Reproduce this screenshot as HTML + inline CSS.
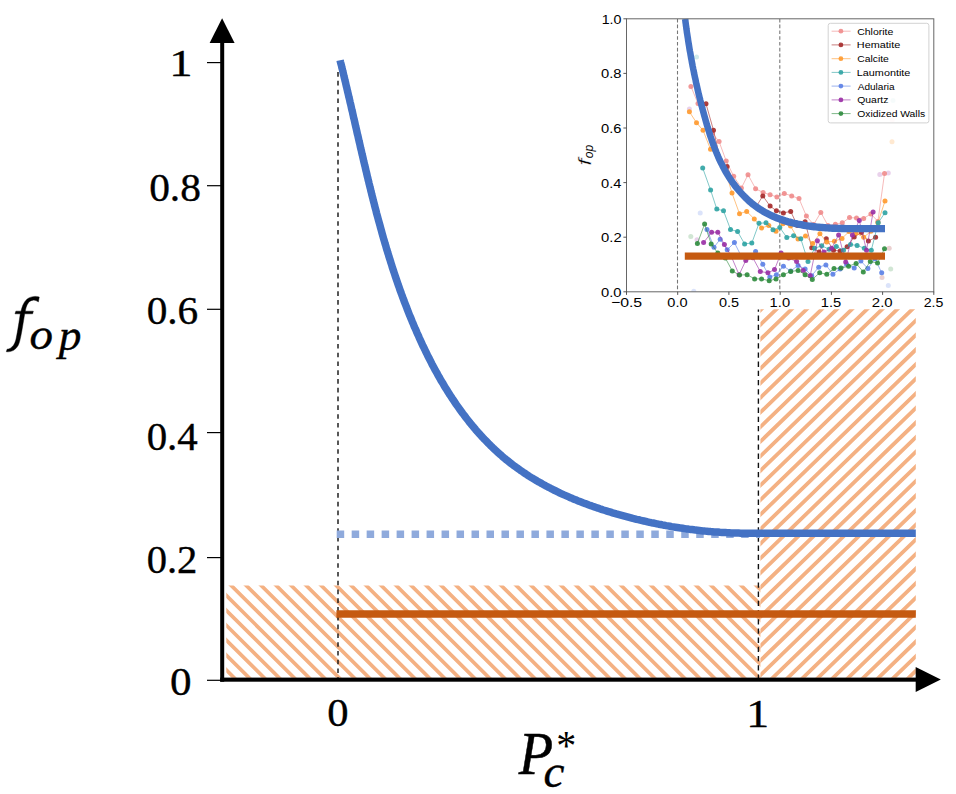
<!DOCTYPE html>
<html><head><meta charset="utf-8"><title>f_op vs P_c*</title>
<style>html,body{margin:0;padding:0;background:#fff;}svg{display:block;}text{font-family:"Liberation Serif",serif;fill:#000;}.s{font-family:"Liberation Sans",sans-serif;fill:#111;}</style></head><body>
<svg width="956" height="794" viewBox="0 0 956 794">
<defs>
<clipPath id="ic"><rect x="626.5" y="18.8" width="307.3" height="273"/></clipPath>
</defs>
<rect width="956" height="794" fill="#fff"/>
<clipPath id="c1"><rect x="226.3" y="585.5" width="534.10" height="92.30"/></clipPath><g clip-path="url(#c1)" stroke="#f4b183" stroke-width="3.7" fill="none"><path d="M86.16,575.50L199.22,687.80M101.16,575.50L214.22,687.80M116.16,575.50L229.22,687.80M131.16,575.50L244.22,687.80M146.16,575.50L259.22,687.80M161.16,575.50L274.22,687.80M176.16,575.50L289.22,687.80M191.16,575.50L304.22,687.80M206.16,575.50L319.22,687.80M221.16,575.50L334.22,687.80M236.16,575.50L349.22,687.80M251.16,575.50L364.22,687.80M266.16,575.50L379.22,687.80M281.16,575.50L394.22,687.80M296.16,575.50L409.22,687.80M311.16,575.50L424.22,687.80M326.16,575.50L439.22,687.80M341.16,575.50L454.22,687.80M356.16,575.50L469.22,687.80M371.16,575.50L484.22,687.80M386.16,575.50L499.22,687.80M401.16,575.50L514.22,687.80M416.16,575.50L529.22,687.80M431.16,575.50L544.22,687.80M446.16,575.50L559.22,687.80M461.16,575.50L574.22,687.80M476.16,575.50L589.22,687.80M491.16,575.50L604.22,687.80M506.16,575.50L619.22,687.80M521.16,575.50L634.22,687.80M536.16,575.50L649.22,687.80M551.16,575.50L664.22,687.80M566.16,575.50L679.22,687.80M581.16,575.50L694.22,687.80M596.16,575.50L709.22,687.80M611.16,575.50L724.22,687.80M626.16,575.50L739.22,687.80M641.16,575.50L754.22,687.80M656.16,575.50L769.22,687.80M671.16,575.50L784.22,687.80M686.16,575.50L799.22,687.80M701.16,575.50L814.22,687.80M716.16,575.50L829.22,687.80M731.16,575.50L844.22,687.80M746.16,575.50L859.22,687.80M761.16,575.50L874.22,687.80M776.16,575.50L889.22,687.80M791.16,575.50L904.22,687.80"/></g>
<clipPath id="c2"><rect x="760.4" y="309.3" width="155.40" height="368.50"/></clipPath><g clip-path="url(#c2)" stroke="#f4b183" stroke-width="3.8" fill="none"><path d="M741.41,299.30L339.61,687.80M756.51,299.30L354.71,687.80M771.61,299.30L369.81,687.80M786.71,299.30L384.91,687.80M801.81,299.30L400.01,687.80M816.91,299.30L415.11,687.80M832.01,299.30L430.21,687.80M847.11,299.30L445.31,687.80M862.21,299.30L460.41,687.80M877.31,299.30L475.51,687.80M892.41,299.30L490.61,687.80M907.51,299.30L505.71,687.80M922.61,299.30L520.81,687.80M937.71,299.30L535.91,687.80M952.81,299.30L551.01,687.80M967.91,299.30L566.11,687.80M983.01,299.30L581.21,687.80M998.11,299.30L596.31,687.80M1013.21,299.30L611.41,687.80M1028.31,299.30L626.51,687.80M1043.41,299.30L641.61,687.80M1058.51,299.30L656.71,687.80M1073.61,299.30L671.81,687.80M1088.71,299.30L686.91,687.80M1103.81,299.30L702.01,687.80M1118.91,299.30L717.11,687.80M1134.01,299.30L732.21,687.80M1149.11,299.30L747.31,687.80M1164.21,299.30L762.41,687.80M1179.31,299.30L777.51,687.80M1194.41,299.30L792.61,687.80M1209.51,299.30L807.71,687.80M1224.61,299.30L822.81,687.80M1239.71,299.30L837.91,687.80M1254.81,299.30L853.01,687.80M1269.91,299.30L868.11,687.80M1285.01,299.30L883.21,687.80M1300.11,299.30L898.31,687.80M1315.21,299.30L913.41,687.80M1330.31,299.30L928.51,687.80M1345.41,299.30L943.61,687.80"/></g>
<g>
<rect x="626.5" y="18.8" width="307.3" height="273" fill="#fff"/>
<g clip-path="url(#ic)">
<line x1="677.5" y1="18.8" x2="677.5" y2="291.8" stroke="#777" stroke-width="1.1" stroke-dasharray="3.6,2.2"/>
<line x1="779.8" y1="18.8" x2="779.8" y2="291.8" stroke="#777" stroke-width="1.1" stroke-dasharray="3.6,2.2"/>
<circle cx="700.2" cy="212.9" r="2.5" fill="#5b80e6" opacity="0.22"/>
<circle cx="697.0" cy="239.8" r="2.5" fill="#9a2fa5" opacity="0.22"/>
<circle cx="690.8" cy="236.5" r="2.5" fill="#2e8b3d" opacity="0.22"/>
<circle cx="693.8" cy="291.3" r="2.5" fill="#5b80e6" opacity="0.22"/>
<circle cx="888.3" cy="173.1" r="2.5" fill="#9a2fa5" opacity="0.22"/>
<circle cx="879.8" cy="174.6" r="2.5" fill="#9a2fa5" opacity="0.22"/>
<circle cx="889.2" cy="248.3" r="2.5" fill="#a52a2a" opacity="0.22"/>
<circle cx="888.3" cy="285.5" r="2.5" fill="#5b80e6" opacity="0.22"/>
<circle cx="890.7" cy="269.0" r="2.5" fill="#2e8b3d" opacity="0.22"/>
<circle cx="882.0" cy="277.6" r="2.5" fill="#a52a2a" opacity="0.22"/>
<circle cx="893.0" cy="100.4" r="2.5" fill="#2fa3a3" opacity="0.22"/>
<circle cx="892.0" cy="141.8" r="2.5" fill="#ff9a2e" opacity="0.22"/>
<circle cx="696.5" cy="57.0" r="2.5" fill="#2fa3a3" opacity="0.22"/>
<circle cx="689.4" cy="109.1" r="2.5" fill="#9a2fa5" opacity="0.22"/>
<circle cx="892.3" cy="119.9" r="2.5" fill="#f08c8c" opacity="0.22"/>
<path d="M690.9,86.4 L698.0,103.5 L705.2,120.0 L712.3,133.0 L719.1,141.6 L726.2,161.0 L733.7,176.2 L741.4,188.0 L748.0,174.7 L755.6,188.7 L763.1,192.5 L770.1,194.8 L776.9,196.9 L784.3,193.5 L791.7,195.9 L799.0,198.6 L806.4,216.1 L813.6,224.6 L820.8,212.4 L828.0,225.6 L835.4,224.3 L842.3,222.8 L849.5,217.6 L856.5,218.0 L863.7,218.4 L870.9,213.9 L877.9,221.4 L884.5,173.6" fill="none" stroke="#f08c8c" stroke-width="1" opacity="0.6"/>
<g fill="#f08c8c" opacity="0.9"><circle cx="690.9" cy="86.4" r="2.5"/><circle cx="698.0" cy="103.5" r="2.5"/><circle cx="705.2" cy="120" r="2.5"/><circle cx="712.3" cy="133" r="2.5"/><circle cx="719.1" cy="141.6" r="2.5"/><circle cx="726.2" cy="161" r="2.5"/><circle cx="733.7" cy="176.2" r="2.5"/><circle cx="741.4" cy="188" r="2.5"/><circle cx="748" cy="174.7" r="2.5"/><circle cx="755.6" cy="188.7" r="2.5"/><circle cx="763.1" cy="192.5" r="2.5"/><circle cx="770.1" cy="194.8" r="2.5"/><circle cx="776.9" cy="196.9" r="2.5"/><circle cx="784.3" cy="193.5" r="2.5"/><circle cx="791.7" cy="195.9" r="2.5"/><circle cx="799" cy="198.6" r="2.5"/><circle cx="806.4" cy="216.1" r="2.5"/><circle cx="813.6" cy="224.6" r="2.5"/><circle cx="820.8" cy="212.4" r="2.5"/><circle cx="828" cy="225.6" r="2.5"/><circle cx="835.4" cy="224.3" r="2.5"/><circle cx="842.3" cy="222.8" r="2.5"/><circle cx="849.5" cy="217.6" r="2.5"/><circle cx="856.5" cy="218" r="2.5"/><circle cx="863.7" cy="218.4" r="2.5"/><circle cx="870.9" cy="213.9" r="2.5"/><circle cx="877.9" cy="221.4" r="2.5"/><circle cx="884.5" cy="173.6" r="2.5"/></g>
<path d="M706.0,103.8 L713.5,130.3 L720.5,160.5 L727.1,166.5 L735.0,184.5 L742.0,194.5 L749.0,201.5 L756.0,207.0 L762.8,195.9 L770.1,206.1 L776.4,210.8 L783.4,212.9 L790.7,211.4 L797.4,225.6 L805.1,221.8 L811.7,247.7 L819.0,252.0 L826.3,238.8 L833.5,250.2 L840.1,251.1 L847.1,246.8 L854.2,236.9 L861.4,232.6 L868.4,241.1 L875.6,237.3" fill="none" stroke="#a52a2a" stroke-width="1" opacity="0.6"/>
<g fill="#a52a2a" opacity="0.9"><circle cx="706" cy="103.8" r="2.5"/><circle cx="713.5" cy="130.3" r="2.5"/><circle cx="720.5" cy="160.5" r="2.5"/><circle cx="727.1" cy="166.5" r="2.5"/><circle cx="735.0" cy="184.5" r="2.5"/><circle cx="742.0" cy="194.5" r="2.5"/><circle cx="749.0" cy="201.5" r="2.5"/><circle cx="756.0" cy="207" r="2.5"/><circle cx="762.8" cy="195.9" r="2.5"/><circle cx="770.1" cy="206.1" r="2.5"/><circle cx="776.4" cy="210.8" r="2.5"/><circle cx="783.4" cy="212.9" r="2.5"/><circle cx="790.7" cy="211.4" r="2.5"/><circle cx="797.4" cy="225.6" r="2.5"/><circle cx="805.1" cy="221.8" r="2.5"/><circle cx="811.7" cy="247.7" r="2.5"/><circle cx="819" cy="252" r="2.5"/><circle cx="826.3" cy="238.8" r="2.5"/><circle cx="833.5" cy="250.2" r="2.5"/><circle cx="840.1" cy="251.1" r="2.5"/><circle cx="847.1" cy="246.8" r="2.5"/><circle cx="854.2" cy="236.9" r="2.5"/><circle cx="861.4" cy="232.6" r="2.5"/><circle cx="868.4" cy="241.1" r="2.5"/><circle cx="875.6" cy="237.3" r="2.5"/></g>
<path d="M689.4,111.8 L696.5,122.7 L703.0,130.3 L710.5,149.2 L718.0,157.0 L725.5,171.0 L732.0,193.1 L739.5,213.7 L746.7,211.4 L754.3,219.0 L761.6,228.0 L768.8,225.6 L776.0,231.3 L783.0,223.7 L790.5,226.0 L798.0,239.0 L805.5,236.0 L812.7,243.5 L819.9,233.7 L826.8,242.0 L834.4,241.3 L842.0,238.4 L849.0,231.6 L856.1,233.1 L863.7,237.3 L870.9,231.3 L877.9,222.8 L885.0,201.0" fill="none" stroke="#ff9a2e" stroke-width="1" opacity="0.6"/>
<g fill="#ff9a2e" opacity="0.9"><circle cx="689.4" cy="111.8" r="2.5"/><circle cx="696.5" cy="122.7" r="2.5"/><circle cx="703" cy="130.3" r="2.5"/><circle cx="710.5" cy="149.2" r="2.5"/><circle cx="718.0" cy="157" r="2.5"/><circle cx="725.5" cy="171" r="2.5"/><circle cx="732" cy="193.1" r="2.5"/><circle cx="739.5" cy="213.7" r="2.5"/><circle cx="746.7" cy="211.4" r="2.5"/><circle cx="754.3" cy="219" r="2.5"/><circle cx="761.6" cy="228" r="2.5"/><circle cx="768.8" cy="225.6" r="2.5"/><circle cx="776" cy="231.3" r="2.5"/><circle cx="783" cy="223.7" r="2.5"/><circle cx="790.5" cy="226" r="2.5"/><circle cx="798" cy="239" r="2.5"/><circle cx="805.5" cy="236" r="2.5"/><circle cx="812.7" cy="243.5" r="2.5"/><circle cx="819.9" cy="233.7" r="2.5"/><circle cx="826.8" cy="242" r="2.5"/><circle cx="834.4" cy="241.3" r="2.5"/><circle cx="842" cy="238.4" r="2.5"/><circle cx="849" cy="231.6" r="2.5"/><circle cx="856.1" cy="233.1" r="2.5"/><circle cx="863.7" cy="237.3" r="2.5"/><circle cx="870.9" cy="231.3" r="2.5"/><circle cx="877.9" cy="222.8" r="2.5"/><circle cx="885" cy="201" r="2.5"/></g>
<path d="M702.7,168.0 L710.6,190.1 L716.8,209.1 L723.5,210.8 L730.5,229.4 L737.6,231.6 L744.6,243.9 L751.8,243.0 L759.0,223.3 L766.0,222.8 L773.0,229.7 L779.8,227.5 L786.8,237.5 L793.6,235.7 L800.8,238.8 L808.0,261.5 L814.6,248.3 L821.7,245.8 L829.1,249.2 L836.3,246.4 L843.5,250.2 L850.5,244.5 L857.1,245.4 L864.3,248.3 L871.3,250.2 L878.2,222.8 L885.0,212.7" fill="none" stroke="#2fa3a3" stroke-width="1" opacity="0.6"/>
<g fill="#2fa3a3" opacity="0.9"><circle cx="702.7" cy="168" r="2.5"/><circle cx="710.6" cy="190.1" r="2.5"/><circle cx="716.8" cy="209.1" r="2.5"/><circle cx="723.5" cy="210.8" r="2.5"/><circle cx="730.5" cy="229.4" r="2.5"/><circle cx="737.6" cy="231.6" r="2.5"/><circle cx="744.6" cy="243.9" r="2.5"/><circle cx="751.8" cy="243" r="2.5"/><circle cx="759" cy="223.3" r="2.5"/><circle cx="766" cy="222.8" r="2.5"/><circle cx="773" cy="229.7" r="2.5"/><circle cx="779.8" cy="227.5" r="2.5"/><circle cx="786.8" cy="237.5" r="2.5"/><circle cx="793.6" cy="235.7" r="2.5"/><circle cx="800.8" cy="238.8" r="2.5"/><circle cx="808" cy="261.5" r="2.5"/><circle cx="814.6" cy="248.3" r="2.5"/><circle cx="821.7" cy="245.8" r="2.5"/><circle cx="829.1" cy="249.2" r="2.5"/><circle cx="836.3" cy="246.4" r="2.5"/><circle cx="843.5" cy="250.2" r="2.5"/><circle cx="850.5" cy="244.5" r="2.5"/><circle cx="857.1" cy="245.4" r="2.5"/><circle cx="864.3" cy="248.3" r="2.5"/><circle cx="871.3" cy="250.2" r="2.5"/><circle cx="878.2" cy="222.8" r="2.5"/><circle cx="885" cy="212.7" r="2.5"/></g>
<path d="M707.0,229.4 L714.0,247.3 L720.2,239.2 L727.2,249.8 L734.4,242.6 L741.4,256.5 L748.5,256.5 L755.6,251.5 L762.8,264.3 L769.8,277.0 L776.4,274.7 L783.4,266.2 L790.7,270.9 L798.1,265.5 L805.1,269.0 L811.7,275.7 L818.7,267.2 L825.9,264.9 L832.9,274.2 L840.1,269.0 L846.7,264.3 L854.2,268.1 L860.9,261.1 L867.9,268.5 L875.0,258.7 L881.7,272.8" fill="none" stroke="#5b80e6" stroke-width="1" opacity="0.6"/>
<g fill="#5b80e6" opacity="0.9"><circle cx="707" cy="229.4" r="2.5"/><circle cx="714" cy="247.3" r="2.5"/><circle cx="720.2" cy="239.2" r="2.5"/><circle cx="727.2" cy="249.8" r="2.5"/><circle cx="734.4" cy="242.6" r="2.5"/><circle cx="741.4" cy="256.5" r="2.5"/><circle cx="748.5" cy="256.5" r="2.5"/><circle cx="755.6" cy="251.5" r="2.5"/><circle cx="762.8" cy="264.3" r="2.5"/><circle cx="769.8" cy="277" r="2.5"/><circle cx="776.4" cy="274.7" r="2.5"/><circle cx="783.4" cy="266.2" r="2.5"/><circle cx="790.7" cy="270.9" r="2.5"/><circle cx="798.1" cy="265.5" r="2.5"/><circle cx="805.1" cy="269" r="2.5"/><circle cx="811.7" cy="275.7" r="2.5"/><circle cx="818.7" cy="267.2" r="2.5"/><circle cx="825.9" cy="264.9" r="2.5"/><circle cx="832.9" cy="274.2" r="2.5"/><circle cx="840.1" cy="269" r="2.5"/><circle cx="846.7" cy="264.3" r="2.5"/><circle cx="854.2" cy="268.1" r="2.5"/><circle cx="860.9" cy="261.1" r="2.5"/><circle cx="867.9" cy="268.5" r="2.5"/><circle cx="875" cy="258.7" r="2.5"/><circle cx="881.7" cy="272.8" r="2.5"/></g>
<path d="M703.6,242.6 L711.6,232.2 L717.8,232.2 L724.4,244.5 L731.0,255.8 L739.1,274.7 L745.8,260.5 L752.8,257.7 L760.3,271.5 L767.9,272.8 L774.5,269.6 L781.1,253.0 L788.7,258.0 L796.6,261.5 L803.2,270.4 L810.2,275.7 L817.4,240.7 L824.0,252.0 L831.6,248.3 L838.6,235.0 L845.7,262.1 L852.4,235.0 L859.3,220.5 L866.5,250.2 L873.1,212.0" fill="none" stroke="#9a2fa5" stroke-width="1" opacity="0.6"/>
<g fill="#9a2fa5" opacity="0.9"><circle cx="703.6" cy="242.6" r="2.5"/><circle cx="711.6" cy="232.2" r="2.5"/><circle cx="717.8" cy="232.2" r="2.5"/><circle cx="724.4" cy="244.5" r="2.5"/><circle cx="731" cy="255.8" r="2.5"/><circle cx="739.1" cy="274.7" r="2.5"/><circle cx="745.8" cy="260.5" r="2.5"/><circle cx="752.8" cy="257.7" r="2.5"/><circle cx="760.3" cy="271.5" r="2.5"/><circle cx="767.9" cy="272.8" r="2.5"/><circle cx="774.5" cy="269.6" r="2.5"/><circle cx="781.1" cy="253" r="2.5"/><circle cx="788.7" cy="258" r="2.5"/><circle cx="796.6" cy="261.5" r="2.5"/><circle cx="803.2" cy="270.4" r="2.5"/><circle cx="810.2" cy="275.7" r="2.5"/><circle cx="817.4" cy="240.7" r="2.5"/><circle cx="824" cy="252" r="2.5"/><circle cx="831.6" cy="248.3" r="2.5"/><circle cx="838.6" cy="235" r="2.5"/><circle cx="845.7" cy="262.1" r="2.5"/><circle cx="852.4" cy="235" r="2.5"/><circle cx="859.3" cy="220.5" r="2.5"/><circle cx="866.5" cy="250.2" r="2.5"/><circle cx="873.1" cy="212" r="2.5"/></g>
<path d="M697.4,243.5 L704.6,224.1 L711.2,243.9 L717.8,253.0 L725.3,258.0 L732.3,270.9 L739.5,275.1 L747.1,274.7 L754.6,278.9 L761.6,278.9 L769.2,280.8 L776.0,278.9 L783.4,274.7 L790.7,271.5 L798.1,270.4 L805.1,274.7 L812.3,279.4 L819.7,272.8 L826.8,274.3 L834.0,268.5 L841.0,268.1 L848.6,266.2 L856.1,263.4 L863.3,271.9 L870.3,261.5 L877.5,263.0 L884.5,248.8" fill="none" stroke="#2e8b3d" stroke-width="1" opacity="0.6"/>
<g fill="#2e8b3d" opacity="0.9"><circle cx="697.4" cy="243.5" r="2.5"/><circle cx="704.6" cy="224.1" r="2.5"/><circle cx="711.2" cy="243.9" r="2.5"/><circle cx="717.8" cy="253" r="2.5"/><circle cx="725.3" cy="258.0" r="2.5"/><circle cx="732.3" cy="270.9" r="2.5"/><circle cx="739.5" cy="275.1" r="2.5"/><circle cx="747.1" cy="274.7" r="2.5"/><circle cx="754.6" cy="278.9" r="2.5"/><circle cx="761.6" cy="278.9" r="2.5"/><circle cx="769.2" cy="280.8" r="2.5"/><circle cx="776" cy="278.9" r="2.5"/><circle cx="783.4" cy="274.7" r="2.5"/><circle cx="790.7" cy="271.5" r="2.5"/><circle cx="798.1" cy="270.4" r="2.5"/><circle cx="805.1" cy="274.7" r="2.5"/><circle cx="812.3" cy="279.4" r="2.5"/><circle cx="819.7" cy="272.8" r="2.5"/><circle cx="826.8" cy="274.3" r="2.5"/><circle cx="834" cy="268.5" r="2.5"/><circle cx="841" cy="268.1" r="2.5"/><circle cx="848.6" cy="266.2" r="2.5"/><circle cx="856.1" cy="263.4" r="2.5"/><circle cx="863.3" cy="271.9" r="2.5"/><circle cx="870.3" cy="261.5" r="2.5"/><circle cx="877.5" cy="263" r="2.5"/><circle cx="884.5" cy="248.8" r="2.5"/></g>
<path transform="scale(0.88,1)" d="M778.5,18.8 L778.8,20.4 L779.0,22.1 L779.3,23.7 L779.5,25.4 L779.8,27.0 L780.0,28.6 L780.3,30.3 L780.5,31.9 L780.8,33.5 L781.1,35.1 L781.4,36.8 L781.7,38.4 L781.9,40.0 L782.2,41.6 L782.5,43.2 L782.8,44.8 L783.1,46.4 L783.4,48.1 L783.7,49.7 L784.0,51.3 L784.4,52.9 L784.7,54.5 L785.0,56.1 L785.3,57.7 L785.7,59.3 L786.0,60.9 L786.3,62.5 L786.7,64.1 L787.0,65.7 L787.4,67.2 L787.7,68.8 L788.1,70.4 L788.5,72.0 L788.8,73.6 L789.2,75.2 L789.6,76.8 L790.0,78.4 L790.4,79.9 L790.7,81.5 L791.1,83.1 L791.5,84.7 L792.0,86.3 L792.4,87.9 L792.8,89.5 L793.2,91.0 L793.6,92.6 L794.0,94.2 L794.5,95.8 L794.9,97.4 L795.4,98.9 L795.8,100.5 L796.3,102.1 L796.7,103.7 L797.2,105.3 L797.7,106.9 L798.1,108.4 L798.6,110.0 L799.1,111.6 L799.6,113.2 L800.1,114.8 L800.6,116.4 L801.1,117.9 L801.6,119.5 L802.1,121.1 L802.6,122.7 L803.1,124.3 L803.7,125.9 L804.2,127.5 L804.8,129.1 L805.3,130.6 L805.9,132.2 L806.4,133.8 L807.0,135.4 L807.6,137.0 L808.2,138.5 L808.8,140.1 L809.4,141.7 L810.1,143.3 L810.7,144.8 L811.4,146.4 L812.0,147.9 L812.7,149.5 L813.4,151.0 L814.1,152.6 L814.8,154.1 L815.6,155.6 L816.3,157.1 L817.1,158.7 L817.9,160.2 L818.7,161.7 L819.5,163.2 L820.4,164.6 L821.2,166.1 L822.1,167.6 L823.0,169.0 L823.9,170.5 L824.8,171.9 L825.8,173.4 L826.8,174.8 L827.7,176.2 L828.8,177.6 L829.8,179.0 L830.8,180.3 L831.9,181.7 L833.0,183.0 L834.1,184.4 L835.2,185.7 L836.4,187.0 L837.5,188.3 L838.7,189.5 L839.9,190.8 L841.1,192.0 L842.3,193.2 L843.6,194.4 L844.9,195.6 L846.2,196.8 L847.5,197.9 L848.8,199.0 L850.1,200.1 L851.5,201.2 L852.9,202.2 L854.2,203.3 L855.7,204.3 L857.1,205.3 L858.5,206.2 L860.0,207.1 L861.5,208.1 L863.0,208.9 L864.5,209.8 L866.0,210.6 L867.5,211.4 L869.1,212.2 L870.7,213.0 L872.3,213.7 L873.9,214.4 L875.5,215.1 L877.1,215.8 L878.8,216.4 L880.4,217.1 L882.1,217.7 L883.8,218.3 L885.5,218.8 L887.2,219.4 L888.9,219.9 L890.6,220.4 L892.3,220.9 L894.1,221.3 L895.9,221.8 L897.6,222.2 L899.4,222.6 L901.2,223.0 L903.0,223.4 L904.8,223.7 L906.6,224.1 L908.4,224.4 L910.2,224.7 L912.1,225.0 L913.9,225.3 L915.8,225.6 L917.6,225.8 L919.5,226.1 L921.3,226.3 L923.2,226.5 L925.1,226.7 L927.0,226.9 L928.8,227.1 L930.7,227.2 L932.6,227.4 L934.5,227.5 L936.4,227.6 L938.3,227.8 L940.2,227.9 L942.1,228.0 L944.0,228.1 L945.9,228.2 L947.8,228.2 L949.7,228.3 L951.6,228.4 L953.5,228.4 L955.4,228.5 L957.3,228.5 L959.2,228.5 L961.1,228.6 L963.0,228.6 L964.9,228.6 L966.7,228.6 L968.6,228.6 L970.5,228.6 L972.4,228.6 L974.2,228.6 L976.1,228.6 L978.0,228.6 L979.8,228.6 L981.7,228.6 L983.5,228.6 L985.4,228.6 L987.2,228.6 L989.0,228.6 L990.8,228.6 L1005.7,228.6" fill="none" stroke="#4472c4" stroke-width="7.4"/>
<line x1="684.8" y1="256.1" x2="885" y2="256.1" stroke="#c55a11" stroke-width="7.2"/>
</g>
<rect x="626.5" y="18.8" width="307.3" height="273" fill="none" stroke="#666" stroke-width="1"/>
<line x1="623.4" y1="291.8" x2="626.5" y2="291.8" stroke="#444" stroke-width="0.9"/>
<text transform="translate(601.01,296.80) scale(0.1473,0.1370)" style="font-family:'Liberation Sans';font-style:normal" font-size="100" fill="#1c1c1c">0.0</text>
<line x1="623.4" y1="237.2" x2="626.5" y2="237.2" stroke="#444" stroke-width="0.9"/>
<text transform="translate(601.01,242.20) scale(0.1485,0.1370)" style="font-family:'Liberation Sans';font-style:normal" font-size="100" fill="#1c1c1c">0.2</text>
<line x1="623.4" y1="182.6" x2="626.5" y2="182.6" stroke="#444" stroke-width="0.9"/>
<text transform="translate(601.02,187.60) scale(0.1462,0.1370)" style="font-family:'Liberation Sans';font-style:normal" font-size="100" fill="#1c1c1c">0.4</text>
<line x1="623.4" y1="128.0" x2="626.5" y2="128.0" stroke="#444" stroke-width="0.9"/>
<text transform="translate(601.01,133.00) scale(0.1473,0.1370)" style="font-family:'Liberation Sans';font-style:normal" font-size="100" fill="#1c1c1c">0.6</text>
<line x1="623.4" y1="73.4" x2="626.5" y2="73.4" stroke="#444" stroke-width="0.9"/>
<text transform="translate(601.01,78.40) scale(0.1473,0.1370)" style="font-family:'Liberation Sans';font-style:normal" font-size="100" fill="#1c1c1c">0.8</text>
<line x1="623.4" y1="18.8" x2="626.5" y2="18.8" stroke="#444" stroke-width="0.9"/>
<text transform="translate(601.66,23.80) scale(0.1425,0.1370)" style="font-family:'Liberation Sans';font-style:normal" font-size="100" fill="#1c1c1c">1.0</text>
<line x1="626.5" y1="291.8" x2="626.5" y2="294.9" stroke="#444" stroke-width="0.9"/>
<text transform="translate(610.91,307.00) scale(0.1585,0.1370)" style="font-family:'Liberation Sans';font-style:normal" font-size="100" fill="#1c1c1c">−0.5</text>
<line x1="677.7" y1="291.8" x2="677.7" y2="294.9" stroke="#444" stroke-width="0.9"/>
<text transform="translate(667.32,307.00) scale(0.1458,0.1370)" style="font-family:'Liberation Sans';font-style:normal" font-size="100" fill="#1c1c1c">0.0</text>
<line x1="728.9" y1="291.8" x2="728.9" y2="294.9" stroke="#444" stroke-width="0.9"/>
<text transform="translate(718.92,307.00) scale(0.1450,0.1370)" style="font-family:'Liberation Sans';font-style:normal" font-size="100" fill="#1c1c1c">0.5</text>
<line x1="780.2" y1="291.8" x2="780.2" y2="294.9" stroke="#444" stroke-width="0.9"/>
<text transform="translate(769.62,307.00) scale(0.1472,0.1370)" style="font-family:'Liberation Sans';font-style:normal" font-size="100" fill="#1c1c1c">1.0</text>
<line x1="831.4" y1="291.8" x2="831.4" y2="294.9" stroke="#444" stroke-width="0.9"/>
<text transform="translate(820.82,307.00) scale(0.1472,0.1370)" style="font-family:'Liberation Sans';font-style:normal" font-size="100" fill="#1c1c1c">1.5</text>
<line x1="882.6" y1="291.8" x2="882.6" y2="294.9" stroke="#444" stroke-width="0.9"/>
<text transform="translate(871.85,307.00) scale(0.1492,0.1370)" style="font-family:'Liberation Sans';font-style:normal" font-size="100" fill="#1c1c1c">2.0</text>
<line x1="933.8" y1="291.8" x2="933.8" y2="294.9" stroke="#444" stroke-width="0.9"/>
<text transform="translate(923.69,307.00) scale(0.1415,0.1370)" style="font-family:'Liberation Sans';font-style:normal" font-size="100" fill="#1c1c1c">2.5</text>
<g transform="rotate(-90)">
<text transform="translate(-165.49,590.80) scale(0.2469,0.1795)" style="font-family:'Liberation Sans';font-style:italic" font-size="100" fill="#1c1c1c" stroke="#fff" stroke-width="2">f</text>
<text transform="translate(-158.16,593.15) scale(0.1200,0.1213)" style="font-family:'Liberation Sans';font-style:italic" font-size="100" fill="#1c1c1c">op</text>
</g>
<rect x="828.2" y="23.3" width="100.7" height="99.6" rx="2.2" fill="#fff" fill-opacity="0.8" stroke="#d2d2d2" stroke-width="1"/>
<line x1="831.6" y1="31.2" x2="850.6" y2="31.2" stroke="#f08c8c" stroke-width="1" opacity="0.6"/>
<circle cx="840.9" cy="31.2" r="2.4" fill="#f08c8c" opacity="0.9"/>
<text transform="translate(857.17,34.70) scale(0.1051,0.0990)" style="font-family:'Liberation Sans';font-style:normal" font-size="100" fill="#1c1c1c">Chlorite</text>
<line x1="831.6" y1="44.9" x2="850.6" y2="44.9" stroke="#a52a2a" stroke-width="1" opacity="0.6"/>
<circle cx="840.9" cy="44.9" r="2.4" fill="#a52a2a" opacity="0.9"/>
<text transform="translate(856.83,48.43) scale(0.1085,0.0990)" style="font-family:'Liberation Sans';font-style:normal" font-size="100" fill="#1c1c1c">Hematite</text>
<line x1="831.6" y1="58.7" x2="850.6" y2="58.7" stroke="#ff9a2e" stroke-width="1" opacity="0.6"/>
<circle cx="840.9" cy="58.7" r="2.4" fill="#ff9a2e" opacity="0.9"/>
<text transform="translate(857.18,62.16) scale(0.1037,0.0990)" style="font-family:'Liberation Sans';font-style:normal" font-size="100" fill="#1c1c1c">Calcite</text>
<line x1="831.6" y1="72.4" x2="850.6" y2="72.4" stroke="#2fa3a3" stroke-width="1" opacity="0.6"/>
<circle cx="840.9" cy="72.4" r="2.4" fill="#2fa3a3" opacity="0.9"/>
<text transform="translate(856.83,75.89) scale(0.1083,0.0990)" style="font-family:'Liberation Sans';font-style:normal" font-size="100" fill="#1c1c1c">Laumontite</text>
<line x1="831.6" y1="86.1" x2="850.6" y2="86.1" stroke="#5b80e6" stroke-width="1" opacity="0.6"/>
<circle cx="840.9" cy="86.1" r="2.4" fill="#5b80e6" opacity="0.9"/>
<text transform="translate(857.70,89.62) scale(0.1008,0.0990)" style="font-family:'Liberation Sans';font-style:normal" font-size="100" fill="#1c1c1c">Adularia</text>
<line x1="831.6" y1="99.9" x2="850.6" y2="99.9" stroke="#9a2fa5" stroke-width="1" opacity="0.6"/>
<circle cx="840.9" cy="99.9" r="2.4" fill="#9a2fa5" opacity="0.9"/>
<text transform="translate(857.18,103.35) scale(0.1045,0.0990)" style="font-family:'Liberation Sans';font-style:normal" font-size="100" fill="#1c1c1c">Quartz</text>
<line x1="831.6" y1="113.6" x2="850.6" y2="113.6" stroke="#2e8b3d" stroke-width="1" opacity="0.6"/>
<circle cx="840.9" cy="113.6" r="2.4" fill="#2e8b3d" opacity="0.9"/>
<text transform="translate(857.18,117.08) scale(0.1035,0.0990)" style="font-family:'Liberation Sans';font-style:normal" font-size="100" fill="#1c1c1c">Oxidized Walls</text>
</g>
<line x1="338" y1="72.1" x2="338" y2="678" stroke="#111" stroke-width="1.4" stroke-dasharray="4.6,4.17"/>
<line x1="758.4" y1="309.5" x2="758.4" y2="678" stroke="#111" stroke-width="1.4" stroke-dasharray="5.3,3.9" stroke-dashoffset="3.1"/>
<line x1="336.7" y1="534.3" x2="760" y2="534.3" stroke="#8faadc" stroke-width="7.6" stroke-dasharray="7.5,7.48"/>
<line x1="336.4" y1="613.9" x2="915.8" y2="613.9" stroke="#c55a11" stroke-width="7.5"/>
<path d="M340.1,60.3 L340.5,62.1 L341.0,64.0 L341.5,65.8 L341.9,67.7 L342.4,69.5 L342.8,71.3 L343.3,73.2 L343.7,75.0 L344.1,76.8 L344.6,78.7 L345.0,80.5 L345.5,82.4 L345.9,84.2 L346.3,86.0 L346.8,87.9 L347.2,89.7 L347.6,91.6 L348.1,93.4 L348.5,95.3 L348.9,97.1 L349.4,98.9 L349.8,100.8 L350.2,102.6 L350.7,104.5 L351.1,106.3 L351.5,108.2 L351.9,110.0 L352.4,111.8 L352.8,113.7 L353.2,115.5 L353.6,117.4 L354.1,119.2 L354.5,121.1 L354.9,122.9 L355.3,124.7 L355.7,126.6 L356.2,128.4 L356.6,130.3 L357.0,132.1 L357.4,134.0 L357.9,135.8 L358.3,137.6 L358.7,139.5 L359.1,141.3 L359.6,143.2 L360.0,145.0 L360.4,146.9 L360.8,148.7 L361.3,150.5 L361.7,152.4 L362.1,154.2 L362.6,156.1 L363.0,157.9 L363.4,159.7 L363.8,161.6 L364.3,163.4 L364.7,165.3 L365.2,167.1 L365.6,168.9 L366.0,170.8 L366.5,172.6 L366.9,174.4 L367.3,176.3 L367.8,178.1 L368.2,180.0 L368.7,181.8 L369.1,183.6 L369.6,185.5 L370.0,187.3 L370.5,189.1 L370.9,191.0 L371.4,192.8 L371.8,194.6 L372.3,196.4 L372.8,198.3 L373.2,200.1 L373.7,201.9 L374.2,203.8 L374.6,205.6 L375.1,207.4 L375.6,209.2 L376.1,211.1 L376.5,212.9 L377.0,214.7 L377.5,216.5 L378.0,218.4 L378.5,220.2 L379.0,222.0 L379.5,223.8 L380.0,225.6 L380.5,227.5 L381.0,229.3 L381.5,231.1 L382.0,232.9 L382.5,234.7 L383.0,236.5 L383.5,238.4 L384.1,240.2 L384.6,242.0 L385.1,243.8 L385.7,245.6 L386.2,247.4 L386.7,249.2 L387.3,251.0 L387.8,252.8 L388.4,254.6 L388.9,256.4 L389.5,258.2 L390.1,260.0 L390.6,261.8 L391.2,263.6 L391.8,265.4 L392.3,267.2 L392.9,269.0 L393.5,270.8 L394.1,272.6 L394.7,274.4 L395.3,276.2 L395.9,278.0 L396.5,279.8 L397.1,281.5 L397.7,283.3 L398.3,285.1 L399.0,286.9 L399.6,288.7 L400.2,290.5 L400.9,292.2 L401.5,294.0 L402.2,295.8 L402.8,297.6 L403.5,299.3 L404.1,301.1 L404.8,302.9 L405.5,304.6 L406.2,306.4 L406.9,308.2 L407.5,309.9 L408.2,311.7 L408.9,313.5 L409.6,315.2 L410.4,317.0 L411.1,318.7 L411.8,320.5 L412.5,322.2 L413.3,324.0 L414.0,325.8 L414.7,327.5 L415.5,329.2 L416.3,331.0 L417.0,332.7 L417.8,334.5 L418.6,336.2 L419.3,338.0 L420.1,339.7 L420.9,341.4 L421.7,343.1 L422.5,344.9 L423.3,346.6 L424.2,348.3 L425.0,350.0 L425.8,351.8 L426.7,353.5 L427.5,355.2 L428.4,356.9 L429.2,358.6 L430.1,360.3 L431.0,362.0 L431.8,363.7 L432.7,365.4 L433.6,367.0 L434.5,368.7 L435.4,370.4 L436.4,372.1 L437.3,373.7 L438.2,375.4 L439.1,377.1 L440.1,378.7 L441.0,380.4 L442.0,382.0 L443.0,383.6 L443.9,385.3 L444.9,386.9 L445.9,388.5 L446.9,390.1 L447.9,391.7 L448.9,393.3 L449.9,394.9 L451.0,396.5 L452.0,398.1 L453.1,399.7 L454.1,401.2 L455.2,402.8 L456.2,404.4 L457.3,405.9 L458.4,407.4 L459.5,409.0 L460.6,410.5 L461.7,412.0 L462.8,413.5 L464.0,415.0 L465.1,416.5 L466.2,418.0 L467.4,419.5 L468.6,421.0 L469.7,422.5 L470.9,423.9 L472.1,425.4 L473.3,426.8 L474.5,428.2 L475.7,429.7 L476.9,431.1 L478.2,432.5 L479.4,433.9 L480.7,435.3 L481.9,436.6 L483.2,438.0 L484.5,439.4 L485.8,440.7 L487.1,442.0 L488.4,443.4 L489.7,444.7 L491.0,446.0 L492.4,447.3 L493.7,448.6 L495.1,449.8 L496.4,451.1 L497.8,452.4 L499.2,453.6 L500.6,454.8 L502.0,456.1 L503.4,457.3 L504.8,458.5 L506.3,459.7 L507.7,460.8 L509.2,462.0 L510.7,463.2 L512.1,464.3 L513.6,465.4 L515.1,466.5 L516.6,467.6 L518.2,468.7 L519.7,469.8 L521.2,470.9 L522.8,471.9 L524.3,473.0 L525.9,474.0 L527.5,475.1 L529.0,476.1 L530.6,477.1 L532.2,478.1 L533.8,479.0 L535.5,480.0 L537.1,481.0 L538.7,481.9 L540.4,482.8 L542.0,483.8 L543.7,484.7 L545.3,485.6 L547.0,486.5 L548.7,487.4 L550.4,488.2 L552.1,489.1 L553.7,490.0 L555.5,490.8 L557.2,491.6 L558.9,492.5 L560.6,493.3 L562.3,494.1 L564.1,494.9 L565.8,495.6 L567.6,496.4 L569.3,497.2 L571.1,497.9 L572.8,498.7 L574.6,499.4 L576.4,500.1 L578.1,500.9 L579.9,501.6 L581.7,502.3 L583.5,503.0 L585.3,503.6 L587.1,504.3 L588.9,505.0 L590.7,505.6 L592.5,506.3 L594.3,506.9 L596.1,507.5 L597.9,508.1 L599.8,508.8 L601.6,509.4 L603.4,510.0 L605.2,510.5 L607.1,511.1 L608.9,511.7 L610.7,512.2 L612.6,512.8 L614.4,513.3 L616.2,513.9 L618.1,514.4 L619.9,514.9 L621.8,515.4 L623.6,515.9 L625.5,516.4 L627.3,516.9 L629.2,517.4 L631.0,517.9 L632.9,518.4 L634.7,518.8 L636.6,519.3 L638.4,519.7 L640.2,520.2 L642.1,520.6 L643.9,521.0 L645.8,521.4 L647.6,521.9 L649.5,522.3 L651.3,522.7 L653.2,523.0 L655.0,523.4 L656.9,523.8 L658.7,524.2 L660.6,524.5 L662.4,524.9 L664.2,525.2 L666.1,525.6 L667.9,525.9 L669.8,526.2 L671.6,526.6 L673.5,526.9 L675.3,527.2 L677.2,527.5 L679.0,527.8 L680.9,528.1 L682.7,528.3 L684.6,528.6 L686.4,528.9 L688.3,529.1 L690.1,529.4 L692.0,529.6 L693.8,529.8 L695.7,530.1 L697.5,530.3 L699.4,530.5 L701.2,530.7 L703.1,530.9 L705.0,531.1 L706.8,531.2 L708.7,531.4 L710.6,531.6 L712.4,531.7 L714.3,531.9 L716.2,532.0 L718.0,532.1 L719.9,532.3 L721.8,532.4 L723.6,532.5 L725.5,532.6 L727.4,532.7 L729.3,532.8 L731.2,532.9 L733.1,532.9 L734.9,533.0 L736.8,533.1 L738.7,533.1 L740.6,533.2 L742.5,533.2 L744.4,533.2 L746.3,533.3 L748.2,533.3 L750.1,533.3 L752.0,533.3 L753.9,533.3 L755.8,533.3 L757.7,533.3 L759.6,533.3 L761.5,533.3 L763.4,533.3 L765.3,533.3 L767.2,533.3 L769.1,533.3 L771.0,533.3 L772.8,533.3 L774.7,533.3 L776.6,533.3 L778.5,533.3 L780.4,533.3 L782.3,533.3 L784.2,533.3 L786.1,533.3 L788.0,533.3 L789.9,533.3 L791.8,533.3 L793.7,533.3 L795.6,533.3 L797.5,533.3 L799.4,533.3 L801.2,533.3 L803.1,533.3 L805.0,533.3 L915.8,533.3" fill="none" stroke="#4472c4" stroke-width="7.5" stroke-linejoin="round"/>
<rect x="220.2" y="40" width="4" height="641.7" fill="#000"/>
<rect x="220.2" y="677.6" width="697" height="4.1" fill="#000"/>
<path d="M222.1,18.2 L234.6,43 L209.6,43 Z" fill="#000"/>
<path d="M940.8,679.6 L915.7,667.1 L915.7,692.1 Z" fill="#000"/>
<line x1="207" y1="680.3" x2="221" y2="680.3" stroke="#000" stroke-width="1.2"/>
<text transform="translate(170.08,695.29) scale(0.4310,0.4044)" style="font-family:'Liberation Serif';font-style:normal" font-size="100" stroke="#000" stroke-width="0.9">0</text>
<line x1="207" y1="557.6" x2="221" y2="557.6" stroke="#000" stroke-width="1.2"/>
<text transform="translate(146.68,572.70) scale(0.4060,0.4015)" style="font-family:'Liberation Serif';font-style:normal" font-size="100" stroke="#000" stroke-width="0.9">0.2</text>
<line x1="207" y1="432.6" x2="221" y2="432.6" stroke="#000" stroke-width="1.2"/>
<text transform="translate(146.66,450.30) scale(0.4092,0.4015)" style="font-family:'Liberation Serif';font-style:normal" font-size="100" stroke="#000" stroke-width="0.9">0.4</text>
<line x1="207" y1="309.3" x2="221" y2="309.3" stroke="#000" stroke-width="1.2"/>
<text transform="translate(146.65,323.60) scale(0.4127,0.4015)" style="font-family:'Liberation Serif';font-style:normal" font-size="100" stroke="#000" stroke-width="0.9">0.6</text>
<line x1="207" y1="185.7" x2="221" y2="185.7" stroke="#000" stroke-width="1.2"/>
<text transform="translate(149.14,200.81) scale(0.4145,0.3971)" style="font-family:'Liberation Serif';font-style:normal" font-size="100" stroke="#000" stroke-width="0.9">0.8</text>
<line x1="207" y1="62.6" x2="221" y2="62.6" stroke="#000" stroke-width="1.2"/>
<text transform="translate(169.31,75.90) scale(0.4657,0.3879)" style="font-family:'Liberation Serif';font-style:normal" font-size="100" stroke="#000" stroke-width="0.9">1</text>
<text transform="translate(327.30,726.30) scale(0.4262,0.4000)" style="font-family:'Liberation Serif';font-style:normal" font-size="100" stroke="#000" stroke-width="0.9">0</text>
<text transform="translate(746.19,726.90) scale(0.4571,0.4091)" style="font-family:'Liberation Serif';font-style:normal" font-size="100" stroke="#000" stroke-width="0.9">1</text>
<path transform="translate(0,290) scale(0.08818)" d="M445,80 C410,66 350,70 305,105 C265,140 248,200 238,240 L180,240 L170,270 L230,270 C220,340 200,470 182,555 C170,610 140,665 80,672 L72,700 C130,705 175,680 205,630 C230,585 245,480 280,270 L370,270 L378,240 L287,240 C295,190 315,120 375,115 C395,113 415,122 435,135 Z" fill="#000" stroke="#000" stroke-width="5" stroke-linejoin="round"/>
<text transform="translate(29.49,349.45) scale(0.4705,0.4458)" style="font-family:'Liberation Serif';font-style:italic" font-size="100" stroke="#000" stroke-width="0.8">o</text>
<text transform="translate(58.72,349.79) scale(0.4528,0.4529)" style="font-family:'Liberation Serif';font-style:italic" font-size="100" stroke="#000" stroke-width="0.8">p</text>
<text transform="translate(518.70,774.29) scale(0.5627,0.6061)" style="font-family:'Liberation Serif';font-style:italic" font-size="100" stroke="#000" stroke-width="0.8">P</text>
<text transform="translate(543.58,787.14) scale(0.4725,0.4604)" style="font-family:'Liberation Serif';font-style:italic" font-size="100" stroke="#000" stroke-width="0.8">c</text>
<text transform="translate(556.20,760.46) scale(0.4000,0.4270)" style="font-family:'Liberation Serif';font-style:normal" font-size="100" >*</text>
</svg></body></html>
